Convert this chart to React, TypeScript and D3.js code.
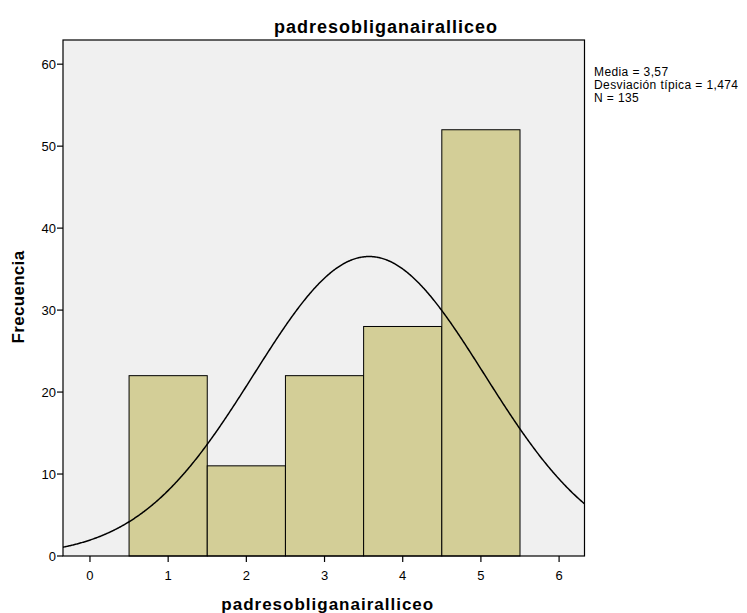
import React from "react";
import * as d3 from "d3";

const binCenters = [1, 2, 3, 4, 5];
const frequencies = [22, 11, 22, 28, 52];
const xTicks = [0, 1, 2, 3, 4, 5, 6];
const yTicks = [0, 10, 20, 30, 40, 50, 60];
const mean = 3.57;
const sd = 1.474;
const n = 135;
const statsLines = ["Media = 3,57", "Desviación típica = 1,474", "N = 135"];
const title = "padresobliganairalliceo";

export default function App() {
  const W = 747, H = 613;
  const left = 63, right = 584.5, top = 40, bottom = 556;
  const x = d3.scaleLinear().domain([-0.345, 6.325]).range([left, right]);
  const y = d3.scaleLinear().domain([0, 62.95]).range([bottom, top]);
  const font = "Arial, 'Liberation Sans', sans-serif";

  const pts: [number, number][] = d3.range(-0.345, 6.33, 0.01).map((v) => [
    v,
    (n / (sd * Math.sqrt(2 * Math.PI))) * Math.exp(-0.5 * ((v - mean) / sd) ** 2),
  ]);
  const line = d3.line<[number, number]>().x((d) => x(d[0])).y((d) => y(d[1]));

  return (
    <svg width={W} height={H} style={{ position: "absolute", left: 0, top: 0 }} fontFamily={font}>
      <rect x={0} y={0} width={W} height={H} fill="#fff" />
      <defs>
        <clipPath id="pa">
          <rect x={left} y={top} width={right - left} height={bottom - top} />
        </clipPath>
      </defs>
      <rect x={left} y={top} width={right - left} height={bottom - top} fill="#F0F0F0" />
      {binCenters.map((c, i) => (
        <rect
          key={c}
          x={x(c - 0.5)}
          y={y(frequencies[i])}
          width={x(c + 0.5) - x(c - 0.5)}
          height={bottom - y(frequencies[i])}
          fill="#D3CE97"
          stroke="#000"
          strokeWidth={1}
        />
      ))}
      <path d={line(pts) || ""} fill="none" stroke="#000" strokeWidth={1.5} clipPath="url(#pa)" />
      <rect x={left} y={top} width={right - left} height={bottom - top} fill="none" stroke="#000" strokeWidth={1.2} />
      {yTicks.map((t) => (
        <g key={t}>
          <line x1={left - 6} x2={left} y1={y(t)} y2={y(t)} stroke="#000" strokeWidth={1.2} />
          <text x={left - 7} y={y(t) + 5} textAnchor="end" fontSize={13} fill="#000">{t}</text>
        </g>
      ))}
      {xTicks.map((t) => (
        <g key={t}>
          <line x1={x(t)} x2={x(t)} y1={bottom} y2={bottom + 6} stroke="#000" strokeWidth={1.2} />
          <text x={x(t)} y={bottom + 24} textAnchor="middle" fontSize={13} fill="#000">{t}</text>
        </g>
      ))}
      <text x={386} y={33} textAnchor="middle" fontSize={18} letterSpacing={1} fontWeight="bold">{title}</text>
      <text x={(left + right) / 2 + 4} y={610} textAnchor="middle" fontSize={17} letterSpacing={1} fontWeight="bold">{title}</text>
      <text transform={`translate(24, 297) rotate(-90)`} textAnchor="middle" fontSize={17} letterSpacing={0.3} fontWeight="bold">Frecuencia</text>
      {statsLines.map((s, i) => (
        <text key={i} x={594} y={76 + i * 13} fontSize={12} letterSpacing={0.4}>{s}</text>
      ))}
    </svg>
  );
}
